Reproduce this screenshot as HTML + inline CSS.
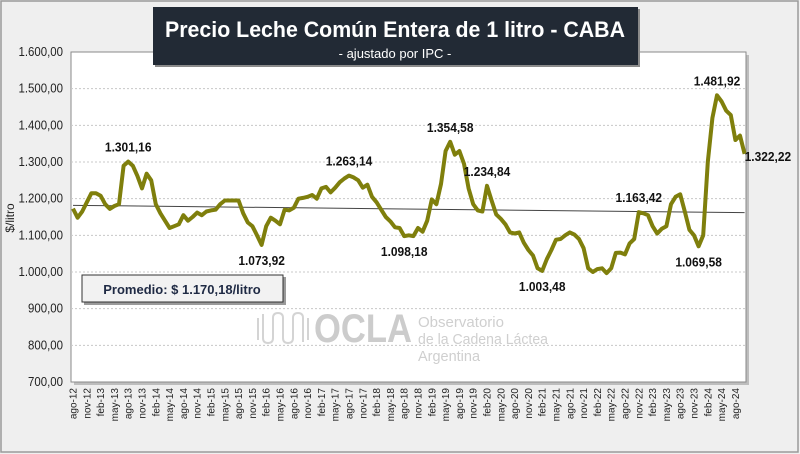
<!DOCTYPE html>
<html><head><meta charset="utf-8"><style>
body{margin:0;background:#fff}
#wrap{position:relative;width:800px;height:454px;background:#efefef;overflow:hidden;font-family:"Liberation Sans",sans-serif}
</style></head><body>
<div id="wrap">
<svg id="chart" width="800" height="454" viewBox="0 0 800 454" xmlns="http://www.w3.org/2000/svg">
<rect x="1" y="1" width="797" height="451" fill="#efefef" stroke="#9a9a9a" stroke-width="1.5"/>
<rect x="74" y="55" width="675" height="330" fill="#bdbdbd"/>
<rect x="71" y="52" width="675" height="330" fill="#ffffff" stroke="#8a8a8a" stroke-width="1"/>
<g id="grid"></g>
<g id="yticks"></g>
<g id="xticks"></g>
<text x="0" y="0" transform="translate(14,218) rotate(-90)" text-anchor="middle" font-size="12" fill="#222">$/litro</text>
<g>
<path d="M258 318 v22 M263 314 v24 q0 5 5 5 q5 0 5 -5 v-20 q0 -5 5 -5 q5 0 5 5 v20 q0 5 5 5 q5 0 5 -5 v-20 q0 -5 5 -5 q5 0 5 5 v24 M308 318 v22" fill="none" stroke="#d4d4d4" stroke-width="2"/>
<text x="314" y="342" font-size="40" font-weight="bold" fill="#cccccc" textLength="98" lengthAdjust="spacingAndGlyphs">OCLA</text>
<text x="418" y="327" font-size="15" fill="#cfcfcf" textLength="86" lengthAdjust="spacingAndGlyphs">Observatorio</text>
<text x="418" y="344" font-size="15" fill="#cfcfcf" textLength="130" lengthAdjust="spacingAndGlyphs">de la Cadena Láctea</text>
<text x="418" y="361" font-size="15" fill="#cfcfcf" textLength="62" lengthAdjust="spacingAndGlyphs">Argentina</text>
</g>
<line id="trend" stroke="#444" stroke-width="1"/>
<path id="series" fill="none" stroke="#7f7f0c" stroke-width="4" stroke-linejoin="round"/>
<g id="labels"></g>
<rect x="84" y="277" width="202" height="28" fill="#9a9a9a"/>
<rect x="82" y="275" width="201" height="27" fill="#f2f2f2" stroke="#333" stroke-width="1"/>
<text x="182" y="294" text-anchor="middle" font-size="13" font-weight="bold" fill="#1f2a44">Promedio: $ 1.170,18/litro</text>
<rect x="155" y="9" width="485" height="58" fill="#8a8a8a"/>
<rect x="153" y="7" width="485" height="58" fill="#222a35"/>
<text x="395" y="37" text-anchor="middle" font-size="22" font-weight="bold" fill="#fff" textLength="460" lengthAdjust="spacingAndGlyphs">Precio Leche Común Entera de 1 litro - CABA</text>
<text x="395" y="58" text-anchor="middle" font-size="13" fill="#fff">- ajustado por IPC -</text>
</svg>
</div>
<script>
const yTicks=[700,800,900,1000,1100,1200,1300,1400,1500,1600];
const yTickLabels=["700,00","800,00","900,00","1.000,00","1.100,00","1.200,00","1.300,00","1.400,00","1.500,00","1.600,00"];
const xTickLabels=["ago-12","nov-12","feb-13","may-13","ago-13","nov-13","feb-14","may-14","ago-14","nov-14","feb-15","may-15","ago-15","nov-15","feb-16","may-16","ago-16","nov-16","feb-17","may-17","ago-17","nov-17","feb-18","may-18","ago-18","nov-18","feb-19","may-19","ago-19","nov-19","feb-20","may-20","ago-20","nov-20","feb-21","may-21","ago-21","nov-21","feb-22","may-22","ago-22","nov-22","feb-23","may-23","ago-23","nov-23","feb-24","may-24","ago-24"];
const prices=[1173,1148,1165,1190,1215,1215,1208,1185,1172,1180,1185,1290,1301,1290,1262,1228,1268,1250,1185,1160,
1140,1120,1125,1130,1155,1140,1150,1162,1155,1165,1168,1170,1185,1195,1195,1195,1195,1160,1135,1125,
1100,1074,1125,1148,1140,1130,1170,1168,1175,1200,1202,1205,1210,1200,1228,1232,1217,1230,1245,1255,
1263,1258,1250,1230,1238,1205,1190,1170,1150,1138,1122,1120,1098,1100,1098,1120,1110,1140,1198,1185,
1240,1330,1355,1320,1330,1295,1228,1185,1168,1165,1235,1195,1157,1145,1130,1108,1105,1108,1080,1060,
1045,1010,1003,1035,1060,1088,1090,1100,1108,1102,1090,1065,1010,1000,1008,1010,997,1010,1052,1053,
1048,1078,1090,1163,1160,1155,1125,1105,1118,1125,1185,1205,1212,1165,1115,1100,1070,1100,1300,1420,
1482,1465,1440,1428,1360,1372,1322];
const annotIdx=[12,41,60,72,82,90,102,123,136,140,146];
const annotText=["1.301,16","1.073,92","1.263,14","1.098,18","1.354,58","1.234,84","1.003,48","1.163,42","1.069,58","1.481,92","1.322,22"];
const annotPos=["above","below","above","below","above","above","below","above","below","above","right"];

const NS="http://www.w3.org/2000/svg";
const X0=73,X1=744.6,YB=382,YT=52,VMIN=700,VMAX=1600;
function xs(i){return X0+(X1-X0)*i/(prices.length-1);}
function ys(v){return YB-(v-VMIN)/(VMAX-VMIN)*(YB-YT);}
function mk(tag,attrs,parent){const e=document.createElementNS(NS,tag);for(const k in attrs)e.setAttribute(k,attrs[k]);parent.appendChild(e);return e;}
const grid=document.getElementById('grid'),yt=document.getElementById('yticks'),xt=document.getElementById('xticks'),lab=document.getElementById('labels');
yTicks.forEach((v,k)=>{
  if(v>VMIN&&v<VMAX){const l=mk('line',{x1:71,x2:746,y1:ys(v),y2:ys(v),stroke:'#c8c8c8','stroke-dasharray':'2,2'},grid);
  
  }
  const t=mk('text',{transform:`translate(63,${ys(v)+4}) scale(0.88,1)`,'text-anchor':'end','font-size':'13',fill:'#222'},yt);
  t.textContent=yTickLabels[k];
  
  
});
xTickLabels.forEach((s,k)=>{
  const x=xs(k*3);
  const t=mk('text',{transform:`translate(${x+3.5},388) rotate(-90)`,'text-anchor':'end','font-size':'10',fill:'#222'},xt);
  t.textContent=s;
  
  
});
let d='';prices.forEach((v,i)=>{d+=(i?'L':'M')+xs(i).toFixed(1)+' '+ys(v).toFixed(1);});
document.getElementById('series').setAttribute('d',d);
const n=prices.length;let sx=0,sy=0,sxx=0,sxy=0;
prices.forEach((v,i)=>{sx+=i;sy+=v;sxx+=i*i;sxy+=i*v;});
const b=(n*sxy-sx*sy)/(n*sxx-sx*sx),a=(sy-b*sx)/n;
const tr=document.getElementById('trend');
tr.setAttribute('x1',X0);tr.setAttribute('y1',ys(a));tr.setAttribute('x2',X1);tr.setAttribute('y2',ys(a+b*(n-1)));
annotIdx.forEach((i,k)=>{
  const p=annotPos[k];let x=xs(i),y=ys(prices[i]),anchor='middle';
  if(p==='above')y-=10;else if(p==='below')y+=20;else{y+=7;anchor='start';}
  const t=mk('text',{transform:`translate(${x},${y}) scale(0.92,1)`,'text-anchor':anchor,'font-size':'13','font-weight':'bold',fill:'#111'},lab);
  t.textContent=annotText[k];
  
  
});
</script>
</body></html>
